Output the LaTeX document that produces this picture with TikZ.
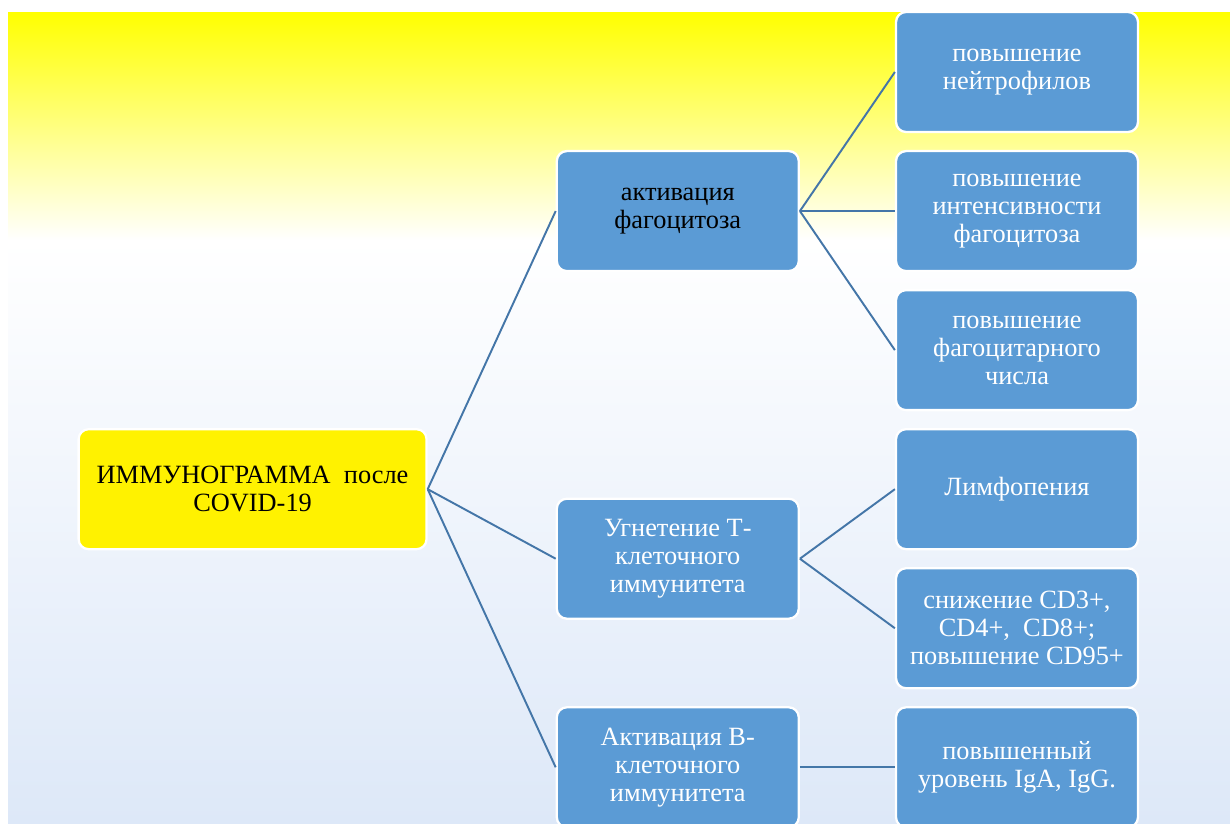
\documentclass[tikz,border=0pt]{standalone}
\usepackage{fontspec}
\setmainfont{Liberation Serif}
\usetikzlibrary{positioning,calc}
\definecolor{boxblue}{RGB}{91,155,213}
\definecolor{linkblue}{RGB}{68,118,168}
\definecolor{paleblue}{RGB}{221,232,248}
\begin{document}
\begin{tikzpicture}[
  x=0.02cm,y=-0.02cm,
  bx/.style={draw=white,line width=1.3pt,rounded corners=0.2cm,fill=boxblue,
             text=white,align=center,inner sep=0.15cm,
             minimum width=4.84cm,minimum height=2.4cm,
             font=\fontsize{15}{16}\selectfont},
  rootbx/.style={bx,fill=yellow,text=black,minimum width=6.96cm},
  link/.style={draw=linkblue,line width=1.1pt},
]
\useasboundingbox (0,0) rectangle (1230,823);
% ============ background ============
\shade[top color=yellow,bottom color=white] (8,12) rectangle (1230,240);
\shade[top color=white,bottom color=paleblue] (8,240) rectangle (1230,823);
% ============ right column ============
\node[bx] (r1) at (1017,72) {повышение\\нейтрофилов};
\node[bx,below=0.336cm of r1] (r2) {повышение\\интенсивности\\фагоцитоза};
\node[bx,below=0.336cm of r2] (r3) {повышение\\фагоцитарного\\числа};
\node[bx,below=0.336cm of r3] (r4) {Лимфопения};
\node[bx,below=0.336cm of r4] (r5) {снижение CD3+,\\CD4+,\ \ CD8+;\\повышение CD95+};
\node[bx,below=0.336cm of r5] (r6) {повышенный\\уровень IgA, IgG.};
% ============ middle column ============
\node[bx,left=1.9cm of r2,text=black] (m1) {активация\\фагоцитоза};
\node[bx,left=1.9cm of $(r4.west)!0.5!(r5.west)$] (m2) {Угнетение Т-\\клеточного\\иммунитета};
\node[bx,left=1.9cm of r6] (m3) {Активация В-\\клеточного\\иммунитета};
% ============ root ============
\node[rootbx,left=2.56cm of $(m1.west)!0.5!(m3.west)$] (root)
  {ИММУНОГРАММА\ \ после\\COVID-19};
% ============ connectors ============
\draw[link] (root.east) -- (m1.west);
\draw[link] (root.east) -- (m2.west);
\draw[link] (root.east) -- (m3.west);
\draw[link] (m1.east) -- (r1.west);
\draw[link] (m1.east) -- (r2.west);
\draw[link] (m1.east) -- (r3.west);
\draw[link] (m2.east) -- (r4.west);
\draw[link] (m2.east) -- (r5.west);
\draw[link] (m3.east) -- (r6.west);
\end{tikzpicture}
\end{document}
